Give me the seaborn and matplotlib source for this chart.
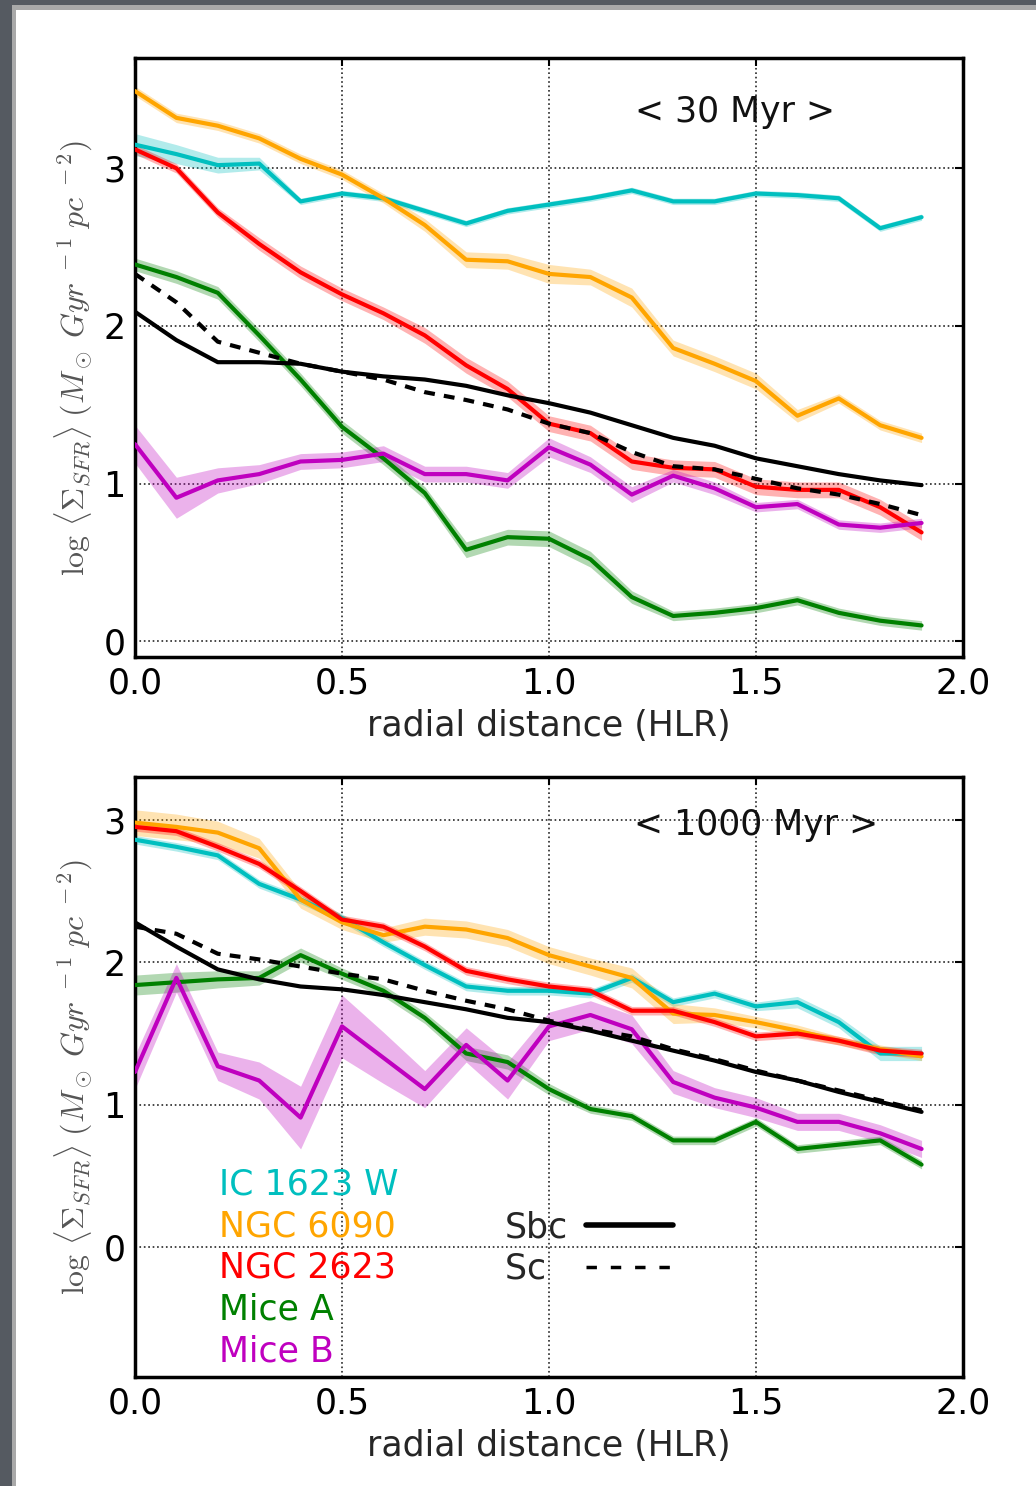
import numpy as np
import pandas as pd
import matplotlib
matplotlib.use("Agg")
import matplotlib.pyplot as plt
import seaborn as sns
from matplotlib.patches import Rectangle
from matplotlib.lines import Line2D

# radial bins (in units of the half-light radius)
radius = [0.0, 0.1, 0.2, 0.3, 0.4, 0.5, 0.6, 0.7, 0.8, 0.9,
          1.0, 1.1, 1.2, 1.3, 1.4, 1.5, 1.6, 1.7, 1.8, 1.9]

galaxies = ["IC 1623 W", "NGC 6090", "NGC 2623", "Mice A", "Mice B"]
colors = ["#00bfbf", "#ffa500", "#ff0000", "#008000", "#bf00bf"]

# ---- < 30 Myr > : log <Sigma_SFR> profiles and their uncertainties
sfr30_ic1623w = [3.15, 3.09, 3.02, 3.03, 2.79, 2.84, 2.81, 2.73, 2.65, 2.73,
                 2.77, 2.81, 2.86, 2.79, 2.79, 2.84, 2.83, 2.81, 2.62, 2.69]
sfr30_ngc6090 = [3.49, 3.32, 3.27, 3.19, 3.06, 2.96, 2.81, 2.64, 2.42, 2.41,
                 2.33, 2.31, 2.18, 1.86, 1.76, 1.65, 1.43, 1.54, 1.37, 1.29]
sfr30_ngc2623 = [3.12, 3.00, 2.72, 2.52, 2.34, 2.20, 2.08, 1.94, 1.75, 1.60,
                 1.38, 1.32, 1.14, 1.10, 1.09, 0.98, 0.96, 0.96, 0.85, 0.69]
sfr30_micea = [2.39, 2.31, 2.21, 1.94, 1.66, 1.36, 1.16, 0.94, 0.58, 0.66,
               0.65, 0.52, 0.28, 0.16, 0.18, 0.21, 0.26, 0.18, 0.13, 0.10]
sfr30_miceb = [1.25, 0.91, 1.02, 1.06, 1.14, 1.15, 1.19, 1.06, 1.06, 1.02,
               1.23, 1.12, 0.93, 1.05, 0.97, 0.85, 0.87, 0.74, 0.72, 0.75]
sfr30_sbc = [2.09, 1.91, 1.77, 1.77, 1.76, 1.71, 1.68, 1.66, 1.62, 1.56,
             1.51, 1.45, 1.37, 1.29, 1.24, 1.16, 1.11, 1.06, 1.02, 0.99]
sfr30_sc = [2.33, 2.15, 1.90, 1.83, 1.76, 1.71, 1.66, 1.58, 1.53, 1.47,
            1.38, 1.32, 1.20, 1.11, 1.09, 1.03, 0.97, 0.93, 0.87, 0.80]

err30_ic1623w = [0.07, 0.06, 0.05, 0.04, 0.02, 0.02, 0.02, 0.02, 0.02, 0.02,
                 0.02, 0.02, 0.02, 0.02, 0.02, 0.02, 0.02, 0.02, 0.02, 0.02]
err30_ngc6090 = [0.03, 0.03, 0.03, 0.03, 0.03, 0.03, 0.03, 0.04, 0.05, 0.05,
                 0.06, 0.05, 0.06, 0.05, 0.05, 0.05, 0.04, 0.03, 0.03, 0.03]
err30_ngc2623 = [0.03, 0.03, 0.03, 0.04, 0.04, 0.04, 0.04, 0.05, 0.05, 0.05,
                 0.05, 0.05, 0.05, 0.05, 0.05, 0.05, 0.05, 0.05, 0.05, 0.05]
err30_micea = [0.04, 0.04, 0.04, 0.04, 0.04, 0.04, 0.04, 0.04, 0.05, 0.05,
               0.05, 0.05, 0.04, 0.03, 0.03, 0.03, 0.03, 0.03, 0.03, 0.03]
err30_miceb = [0.12, 0.13, 0.08, 0.06, 0.05, 0.05, 0.05, 0.05, 0.05, 0.05,
               0.06, 0.05, 0.05, 0.04, 0.04, 0.03, 0.03, 0.03, 0.03, 0.03]

# ---- < 1000 Myr >
sfr1000_ic1623w = [2.86, 2.81, 2.75, 2.55, 2.44, 2.31, 2.14, 1.98, 1.83, 1.80,
                   1.80, 1.78, 1.89, 1.72, 1.78, 1.69, 1.72, 1.58, 1.36, 1.36]
sfr1000_ngc6090 = [2.98, 2.95, 2.91, 2.80, 2.44, 2.28, 2.19, 2.25, 2.23, 2.17,
                   2.05, 1.97, 1.89, 1.64, 1.63, 1.58, 1.52, 1.45, 1.39, 1.34]
sfr1000_ngc2623 = [2.95, 2.92, 2.81, 2.69, 2.50, 2.30, 2.25, 2.11, 1.94, 1.88,
                   1.83, 1.80, 1.66, 1.66, 1.58, 1.48, 1.50, 1.45, 1.38, 1.36]
sfr1000_micea = [1.84, 1.86, 1.88, 1.89, 2.05, 1.92, 1.80, 1.61, 1.36, 1.30,
                 1.11, 0.97, 0.92, 0.75, 0.75, 0.88, 0.69, 0.72, 0.75, 0.58]
sfr1000_miceb = [1.23, 1.89, 1.27, 1.17, 0.91, 1.55, 1.33, 1.11, 1.42, 1.17,
                 1.55, 1.63, 1.53, 1.16, 1.05, 0.98, 0.88, 0.88, 0.80, 0.69]
sfr1000_sbc = [2.28, 2.11, 1.95, 1.88, 1.83, 1.81, 1.77, 1.72, 1.67, 1.61,
               1.58, 1.52, 1.45, 1.38, 1.31, 1.23, 1.17, 1.09, 1.02, 0.95]
sfr1000_sc = [2.25, 2.20, 2.06, 2.02, 1.97, 1.92, 1.88, 1.80, 1.73, 1.67,
              1.59, 1.53, 1.48, 1.39, 1.32, 1.24, 1.17, 1.10, 1.03, 0.96]

err1000_ic1623w = [0.03, 0.03, 0.03, 0.03, 0.03, 0.03, 0.03, 0.03, 0.03, 0.03,
                   0.03, 0.03, 0.03, 0.03, 0.03, 0.03, 0.04, 0.04, 0.05, 0.05]
err1000_ngc6090 = [0.09, 0.09, 0.08, 0.07, 0.06, 0.05, 0.05, 0.06, 0.06, 0.06,
                   0.06, 0.06, 0.07, 0.07, 0.05, 0.04, 0.04, 0.03, 0.03, 0.03]
err1000_ngc2623 = [0.03, 0.03, 0.03, 0.03, 0.03, 0.03, 0.03, 0.03, 0.03, 0.03,
                   0.03, 0.03, 0.03, 0.03, 0.03, 0.03, 0.03, 0.03, 0.03, 0.03]
err1000_micea = [0.07, 0.07, 0.06, 0.05, 0.05, 0.04, 0.04, 0.04, 0.05, 0.05,
                 0.04, 0.03, 0.03, 0.03, 0.03, 0.03, 0.03, 0.03, 0.03, 0.03]
err1000_miceb = [0.12, 0.10, 0.10, 0.13, 0.22, 0.22, 0.18, 0.13, 0.12, 0.13,
                 0.10, 0.10, 0.10, 0.08, 0.07, 0.07, 0.06, 0.06, 0.06, 0.06]

panels = [
    dict(title="< 30 Myr >", ylim=(-0.1, 3.7), title_xy=(1.45, 3.36),
         gal=[sfr30_ic1623w, sfr30_ngc6090, sfr30_ngc2623, sfr30_micea, sfr30_miceb],
         err=[err30_ic1623w, err30_ngc6090, err30_ngc2623, err30_micea, err30_miceb],
         sbc=sfr30_sbc, sc=sfr30_sc),
    dict(title="< 1000 Myr >", ylim=(-0.91, 3.3), title_xy=(1.50, 2.96),
         gal=[sfr1000_ic1623w, sfr1000_ngc6090, sfr1000_ngc2623, sfr1000_micea, sfr1000_miceb],
         err=[err1000_ic1623w, err1000_ngc6090, err1000_ngc2623, err1000_micea, err1000_miceb],
         sbc=sfr1000_sbc, sc=sfr1000_sc),
]

sns.set_style("white")
plt.rcParams["font.family"] = ["DejaVu Sans"]
plt.rcParams["mathtext.fontset"] = "cm"

FS = 25
SC_DASH = (0, (2.6, 2.2))
fig = plt.figure(figsize=(10.36, 14.86), dpi=100)

# window frame around the figure
fig.add_artist(Rectangle((0, 0), 12 / 1036, 1, transform=fig.transFigure,
                         color="#555a61", lw=0, zorder=10))
fig.add_artist(Rectangle((12 / 1036, 0), 4 / 1036, 1 - 4 / 1486, transform=fig.transFigure,
                         color="#a9a9a9", lw=0, zorder=10))
fig.add_artist(Rectangle((0, 1 - 5 / 1486), 1, 5 / 1486, transform=fig.transFigure,
                         color="#555a61", lw=0, zorder=10))
fig.add_artist(Rectangle((12 / 1036, 1 - 10 / 1486), 1, 5 / 1486, transform=fig.transFigure,
                         color="#a9a9a9", lw=0, zorder=10))

axes_rects = [[0.1303, 0.5579, 0.7992, 0.4031],
              [0.1303, 0.0734, 0.7992, 0.4037]]

ylabel = r"$\log\,\langle\Sigma_{SFR}\rangle\;(M_\odot\;Gyr^{\ -1}\;pc^{\ -2})$"

for rect, p in zip(axes_rects, panels):
    ax = fig.add_axes(rect)
    # uncertainty bands
    for vals, err, c in zip(p["gal"], p["err"], colors):
        v = np.array(vals)
        e = np.array(err)
        ax.fill_between(radius, v - e, v + e, color=c, alpha=0.3, lw=0, zorder=2)
    # galaxy profiles
    df = pd.DataFrame({
        "r": radius * len(galaxies),
        "v": sum(p["gal"], []),
        "galaxy": [g for g in galaxies for _ in radius],
    })
    sns.lineplot(data=df, x="r", y="v", hue="galaxy", hue_order=galaxies,
                 palette=colors, lw=3, legend=False, ax=ax,
                 estimator=None, sort=False, zorder=3)
    # reference spiral-type profiles
    sns.lineplot(x=radius, y=p["sbc"], color="k", lw=3, ax=ax, zorder=4)
    sns.lineplot(x=radius, y=p["sc"], color="k", lw=3, ax=ax, zorder=4,
                 dashes=False, linestyle=SC_DASH)

    ax.set_xlim(0, 2.0)
    ax.set_ylim(*p["ylim"])
    ax.set_xticks([0.0, 0.5, 1.0, 1.5, 2.0])
    ax.set_xticklabels(["0.0", "0.5", "1.0", "1.5", "2.0"])
    ax.set_yticks([0, 1, 2, 3])
    ax.tick_params(direction="in", top=True, right=True, length=6, width=1.5,
                   labelsize=FS, pad=7, colors="k")
    ax.grid(True, color="k", linestyle=":", lw=1.2, alpha=0.85)
    for s in ax.spines.values():
        s.set_linewidth(2.5)
        s.set_color("k")
    ax.set_xlabel("radial distance (HLR)", fontsize=FS, labelpad=6)
    ax.set_ylabel(ylabel, fontsize=23, color="#555555", labelpad=6)
    ax.text(p["title_xy"][0], p["title_xy"][1], p["title"], fontsize=FS,
            ha="center", va="center", color="#111111", zorder=5)
    last_ax = ax

# colour-coded galaxy names and spiral-type key in the lower panel
gal_handles = [Line2D([], [], color=c, lw=0) for c in colors]
leg1 = last_ax.legend(gal_handles, galaxies, loc="upper left",
                      bbox_to_anchor=(0.101, 0.349), frameon=False,
                      fontsize=FS, handlelength=0, handletextpad=0,
                      labelspacing=0.22, borderpad=0, borderaxespad=0)
for txt, c in zip(leg1.get_texts(), colors):
    txt.set_color(c)
last_ax.add_artist(leg1)

type_handles = [Line2D([], [], color="k", lw=4),
                Line2D([], [], color="k", lw=2.5, linestyle=(0, (3, 4)))]
last_ax.legend(type_handles, ["Sbc", "Sc  "], loc="upper left",
               bbox_to_anchor=(0.447, 0.278), frameon=False, fontsize=FS,
               markerfirst=False, handlelength=2.5, handletextpad=0.5,
               labelspacing=0.22, borderpad=0, borderaxespad=0)

fig.savefig("out.png", dpi=100)
